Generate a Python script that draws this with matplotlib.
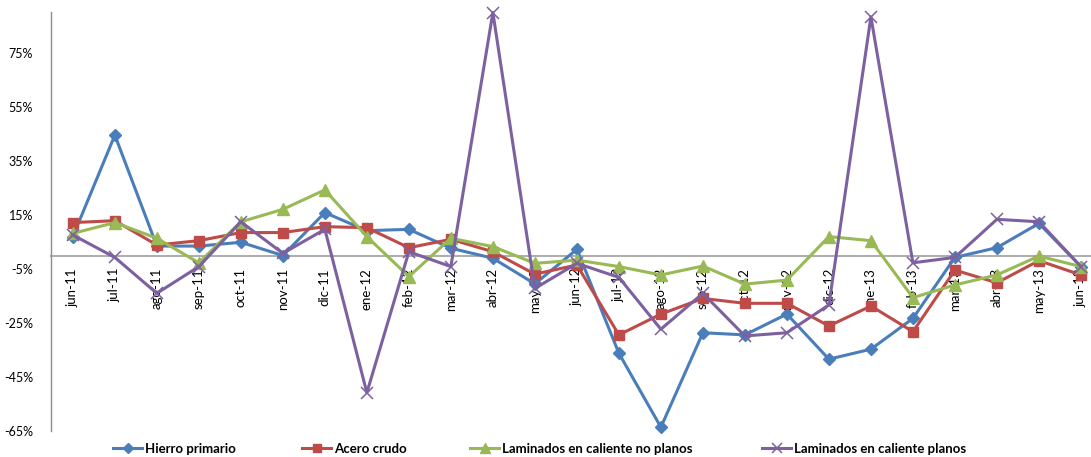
import matplotlib
matplotlib.use("Agg")
import matplotlib.pyplot as plt
from matplotlib.lines import Line2D
from matplotlib.ticker import FixedLocator, FuncFormatter

plt.rcParams['font.family'] = ['Lato', 'DejaVu Sans']

months = ["jun-11", "jul-11", "ago-11", "sep-11", "oct-11", "nov-11", "dic-11",
          "ene-12", "feb-12", "mar-12", "abr-12", "may-12", "jun-12", "jul-12",
          "ago-12", "sep-12", "oct-12", "nov-12", "dic-12", "ene-13", "feb-13",
          "mar-13", "abr-13", "may-13", "jun-13"]

hierro_primario = [7.0, 44.6, 3.5, 3.5, 4.9, 0.0, 15.9, 9.2, 9.7, 2.7, -1.0,
                   -10.5, 2.3, -36.2, -63.6, -28.6, -29.4, -21.7, -38.4, -34.7,
                   -23.3, -0.7, 2.9, 11.9, -4.1]
acero_crudo = [12.2, 12.9, 3.9, 5.5, 8.5, 8.5, 10.7, 10.3, 2.9, 6.0, 1.4,
               -6.9, -3.5, -29.4, -21.7, -15.9, -17.7, -17.7, -26.1, -18.7,
               -28.2, -5.4, -10.1, -1.9, -7.2]
no_planos = [8.2, 12.2, 6.4, -2.7, 12.5, 17.1, 24.3, 7.0, -7.8, 6.4, 3.3,
             -2.9, -1.7, -4.1, -7.2, -3.9, -10.6, -9.1, 7.0, 5.5, -15.6,
             -10.9, -7.2, -0.2, -4.1]
planos = [7.6, -0.7, -14.0, -4.1, 12.5, 0.8, 9.7, -50.8, 1.4, -4.1, 90.0,
          -12.2, -2.9, -8.1, -27.3, -14.0, -29.8, -28.6, -18.3, 88.4, -2.7,
          -0.7, 13.4, 12.5, -4.1]

series = [
    ("Hierro primario", hierro_primario, "#4A7EBB", "D", 6.5, 1.0),
    ("Acero crudo", acero_crudo, "#BE4B48", "s", 7.5, 1.0),
    ("Laminados en caliente no planos", no_planos, "#98B954", "^", 8, 1.0),
    ("Laminados en caliente planos", planos, "#7D60A0", "x", 9, 1.1),
]

y_ticks = [-65, -45, -25, -5, 15, 35, 55, 75]

fig = plt.figure(figsize=(10.91, 4.57), dpi=100)
ax = fig.add_axes([51 / 1091, 1 - 431 / 457, 1 - 51 / 1091, (431 - 12) / 457])

x = list(range(len(months)))
handles = []
for name, vals, color, marker, ms, mew in series:
    line, = ax.plot(x, vals, color=color, lw=2.2, marker=marker, ms=ms,
                    mfc=color, mec=color, mew=mew, label=name, clip_on=False,
                    zorder=3)
    handles.append(line)

ax.set_xlim(-0.52, 24.24)
ax.set_ylim(-65, 90.2)

# Spines: gray left axis, category axis crossing at zero
for s in ["top", "right"]:
    ax.spines[s].set_visible(False)
ax.spines["left"].set_color("#8C8C8C")
ax.spines["left"].set_linewidth(1.0)
ax.spines["bottom"].set_position(("data", 0))
ax.spines["bottom"].set_color("#A6A6A6")
ax.spines["bottom"].set_linewidth(1.3)
ax.spines["bottom"].set_zorder(1)

ax.yaxis.set_major_locator(FixedLocator(y_ticks))
ax.yaxis.set_major_formatter(FuncFormatter(lambda v, p: f"{int(v)}%"))
ax.tick_params(axis="y", length=0, pad=13, labelsize=9, labelcolor="#000000")

ax.set_xticks(x)
ax.set_xticklabels(months, rotation=90, va="top", ha="center")
ax.tick_params(axis="x", length=0, pad=9, labelsize=9.5, labelcolor="#000000")

# Legend entries placed along the bottom
legend_x = [113, 302, 470, 762]
for h, lx in zip(handles, legend_x):
    lh = Line2D([], [], color=h.get_color(), lw=2.2, marker=h.get_marker(),
                ms=h.get_markersize() * 0.85, mfc=h.get_color(),
                mec=h.get_color(), mew=h.get_markeredgewidth())
    fig.legend(handles=[lh], labels=[h.get_label()], loc="center left",
               bbox_to_anchor=(lx / 1091, 1 - 449 / 457), frameon=False,
               borderpad=0, borderaxespad=0, handlelength=2.2,
               handletextpad=0.25, prop={"weight": "bold", "size": 9.5},
               numpoints=1)

fig.savefig("out.png", dpi=100)
